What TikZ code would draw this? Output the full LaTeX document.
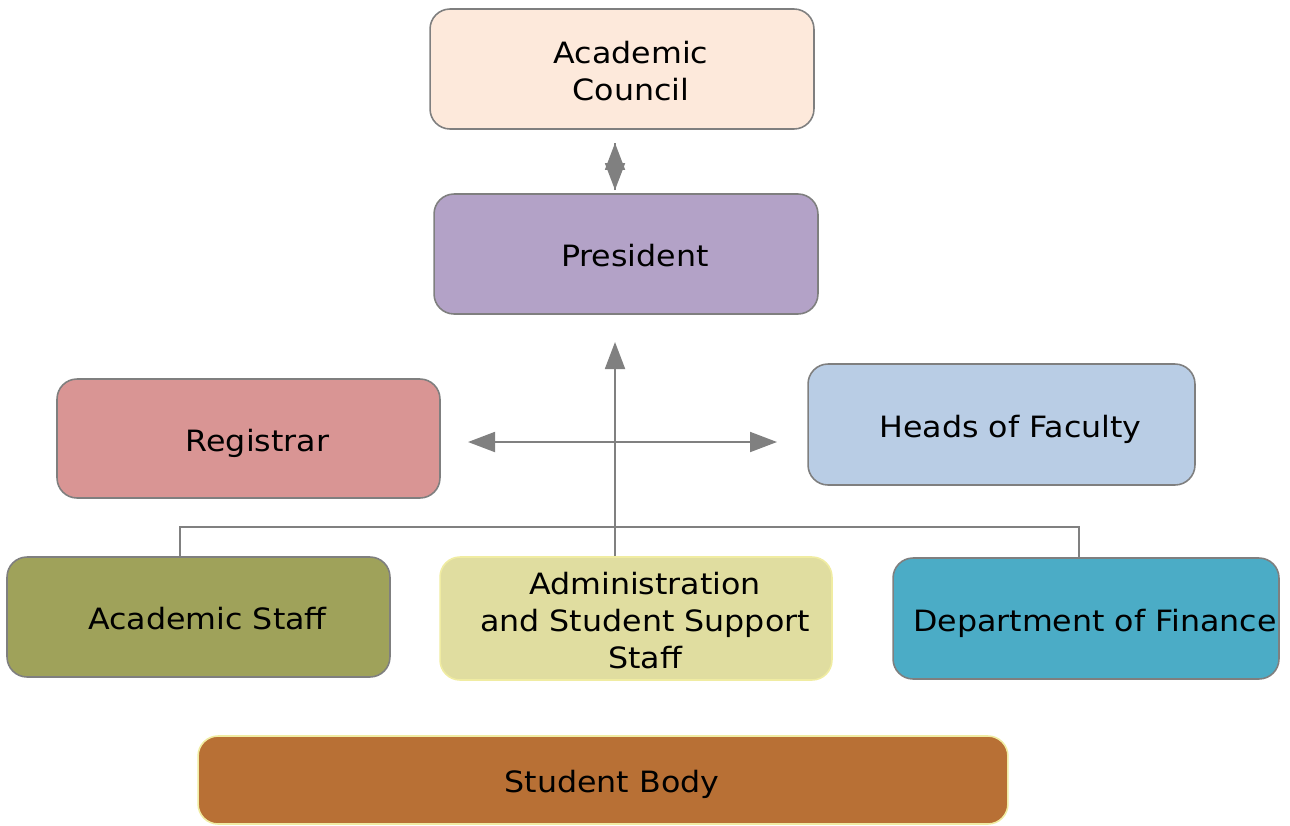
\documentclass[tikz,border=0pt]{standalone}
\usepackage{fontspec}
\setmainfont{DejaVu Sans}[FakeStretch=1.08]
\usetikzlibrary{arrows.meta,positioning}

\definecolor{edgegray}{HTML}{7F7F7F}
\definecolor{linkgray}{HTML}{808080}
\definecolor{paleyellow}{HTML}{F0ECA2}
\definecolor{councilfill}{HTML}{FDE9DB}
\definecolor{presidentfill}{HTML}{B3A2C7}
\definecolor{registrarfill}{HTML}{D99594}
\definecolor{headsfill}{HTML}{B9CDE5}
\definecolor{staffill}{HTML}{9FA25A}
\definecolor{adminfill}{HTML}{E0DDA0}
\definecolor{financefill}{HTML}{4BACC6}
\definecolor{studentfill}{HTML}{B87035}

% box text sits a little right of and below the box centre
\newcommand\boxtext[1]{\raisebox{0pt}[\dimexpr\height+0.22cm\relax][\depth]{%
  \hspace*{0.36cm}\begin{tabular}{@{}c@{}}#1\end{tabular}}}

\tikzset{
  unit/.style={draw=edgegray, line width=0.9pt, rounded corners=0.4cm,
    minimum width=7.68cm, minimum height=2.4cm, inner sep=0pt,
    font=\fontsize{16.7}{21}\selectfont},
  link/.style={draw=linkgray, line width=1.1pt},
  tip/.style={-{Triangle[length=0.54cm,width=0.4cm]}}
}

\begin{document}
\begin{tikzpicture}[x=0.02cm,y=-0.02cm]
  \useasboundingbox (0,0) rectangle (1290,825);

  \node [unit,fill=councilfill] (council) at (622,69) {\boxtext{Academic\\Council}};
  \node [unit,fill=presidentfill] (president) at (626,254) {\boxtext{President}};
  \node [unit,fill=registrarfill,minimum width=7.66cm,minimum height=2.38cm] (registrar) at (248.5,438.5) {\boxtext{Registrar}};
  \node [unit,fill=headsfill,minimum width=7.74cm,minimum height=2.42cm] (heads) at (1001.5,424.5) {\boxtext{Heads of Faculty}};
  \node [unit,fill=staffill,minimum width=7.66cm] (acstaff) at (198.5,617) {\boxtext{Academic Staff}};
  \node [unit,fill=adminfill,draw=paleyellow,minimum width=7.84cm,minimum height=2.46cm] (admin) at (636,618.5) {\boxtext{Administration\\ and Student Support\\Staff}};
  \node [unit,fill=financefill,minimum width=7.72cm,minimum height=2.42cm] (finance) at (1086,618.5) {\boxtext{Department of Finance}};
  \node [unit,fill=studentfill,draw=paleyellow,minimum width=16.2cm,minimum height=1.76cm] (students) at (603,780) {\boxtext{Student Body}};

  % loose ends of the connectors
  \coordinate (up1) at (615,143);
  \coordinate (up2) at (615,190);
  \coordinate (trunk) at (615,342);
  \coordinate (hub) at (615,442);
  \coordinate (west) at (468,442);
  \coordinate (east) at (777,442);
  \coordinate (barl) at (180,527);
  \coordinate (barr) at (1079,527);

  \draw [link,tip] (up2) -- (up1);
  \draw [link,tip] (up1) -- (up2);
  \draw [link,tip] (trunk |- admin.north) -- (trunk);
  \draw [link,tip] (hub) -- (west);
  \draw [link,tip] (hub) -- (east);
  \draw [link] (barl |- acstaff.north) -- (barl) -- (barr) -- (barr |- finance.north);
\end{tikzpicture}
\end{document}
